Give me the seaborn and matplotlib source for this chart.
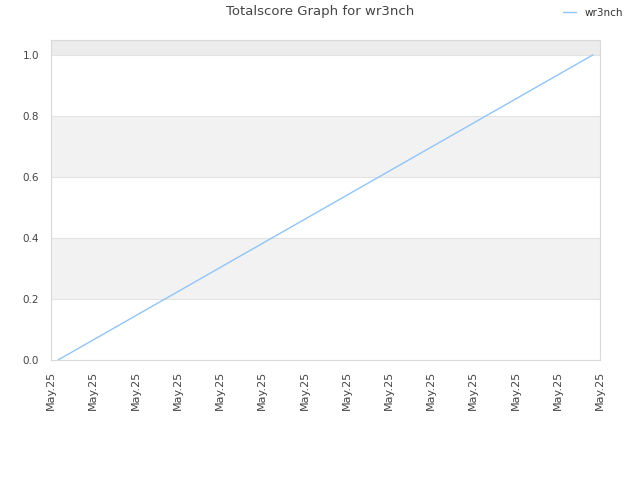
import matplotlib
matplotlib.use("Agg")
import matplotlib.pyplot as plt
import seaborn as sns
import pandas as pd
from matplotlib.lines import Line2D

# data
x_pos = [0.166, 12.83]
scores = [0.0, 1.0]
tick_positions = list(range(14))
tick_labels = ["May.25"] * 14
y_ticks = [0.0, 0.2, 0.4, 0.6, 0.8, 1.0]
y_labels = ["0.0", "0.2", "0.4", "0.6", "0.8", "1.0"]
series_name = "wr3nch"
title = "Totalscore Graph for wr3nch"

sns.set_theme(style="white")
plt.rcParams['font.family'] = ['DejaVu Sans']

df = pd.DataFrame({"x": x_pos, "score": scores, "player": series_name})

fig = plt.figure(figsize=(6.4, 4.8), dpi=100)
ax = fig.add_axes([51/640, 1-360/480, (600-51)/640, (360-40)/480])

ax.set_xlim(0, 13)
ax.set_ylim(0, 1.049)
# bands
ax.axhspan(0.2, 0.4, color="#f2f2f2", zorder=0, lw=0)
ax.axhspan(0.6, 0.8, color="#f2f2f2", zorder=0, lw=0)
ax.axhspan(1.0, 1.049, color="#ececec", zorder=0, lw=0)
for yv in [0.2, 0.4, 0.6, 0.8, 1.0]:
    ax.axhline(yv, color="#e2e2e2", lw=0.8, zorder=0.5)

sns.lineplot(data=df, x="x", y="score", hue="player", palette=["#92c4f5"],
             ax=ax, lw=1, legend=False)

ax.set_xticks(tick_positions)
ax.set_xticklabels(tick_labels, rotation=90, fontsize=8, color="#444444")
ax.set_yticks(y_ticks)
ax.set_yticklabels(y_labels, fontsize=7.5, color="#444444")
ax.tick_params(axis="x", length=0, pad=8)
ax.tick_params(axis="y", length=0, pad=8.5)
ax.set_xlabel("")
ax.set_ylabel("")
for s in ax.spines.values():
    s.set_color("#d9d9d9")
    s.set_linewidth(0.8)

fig.suptitle(title, x=0.5, y=1-12/480, fontsize=9.5, color="#444444", va="center")

handle = Line2D([], [], color="#92c4f5", lw=1)
fig.legend([handle], [series_name], loc="center right", bbox_to_anchor=(632/640, 1-13/480),
           frameon=False, fontsize=7.5, handlelength=1.2, handletextpad=0.8, labelcolor="#333333")

fig.savefig("out.png", dpi=100)
